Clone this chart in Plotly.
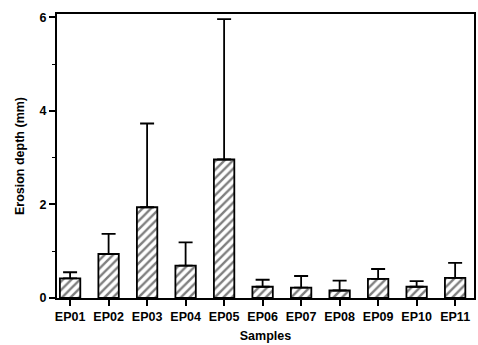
import plotly.graph_objects as go

samples = ["EP01", "EP02", "EP03", "EP04", "EP05", "EP06",
           "EP07", "EP08", "EP09", "EP10", "EP11"]
depth_mm = [0.42, 0.94, 1.94, 0.69, 2.96, 0.24, 0.22, 0.16, 0.41, 0.24, 0.43]
depth_err = [0.13, 0.43, 1.79, 0.50, 3.00, 0.15, 0.25, 0.21, 0.21, 0.12, 0.32]

font_main = "Liberation Sans, Arial, sans-serif"

fig = go.Figure()
fig.add_trace(go.Bar(
    x=list(range(len(samples))),
    y=depth_mm,
    width=0.53,
    marker=dict(
        color="white",
        line=dict(color="black", width=1.8),
        pattern=dict(shape="/", fgcolor="black", bgcolor="white",
                     size=6, solidity=0.4),
    ),
    error_y=dict(type="data", symmetric=False, array=depth_err,
                 arrayminus=[0] * len(samples),
                 color="black", thickness=1.8, width=7),
))

fig.update_layout(
    width=478, height=345,
    margin=dict(l=57, r=2, t=14, b=47),
    paper_bgcolor="white", plot_bgcolor="white",
    showlegend=False,
    font=dict(family=font_main, size=12, color="black"),
    bargap=0.4,
)
fig.update_xaxes(
    range=[-0.34, 10.49],
    tickmode="array",
    tickvals=list(range(len(samples))),
    ticktext=[f"<b>{s}</b>" for s in samples],
    ticks="outside", ticklen=6, tickwidth=1.6, tickcolor="black",
    showline=True, linecolor="black", linewidth=2, mirror=True,
    showgrid=False, zeroline=False,
    tickfont=dict(size=12.5, color="black"),
    title=dict(text="<b>Samples</b>", font=dict(size=12.5, color="black"),
               standoff=8),
)
fig.update_yaxes(
    range=[0, 6.07],
    tickmode="array", tickvals=[0, 2, 4, 6],
    ticktext=["<b>0</b>", "<b>2</b>", "<b>4</b>", "<b>6</b>"],
    ticks="outside", ticklen=6, tickwidth=1.6, tickcolor="black",
    minor=dict(tickvals=[1, 3, 5], ticks="outside", ticklen=3,
               tickwidth=1.2, tickcolor="black", showgrid=False),
    showline=True, linecolor="black", linewidth=2, mirror=True,
    showgrid=False, zeroline=False,
    tickfont=dict(size=12.5, color="black"),
    title=dict(text="<b>Erosion depth (mm)</b>",
               font=dict(size=12.5, color="black"), standoff=12),
)

fig.write_html("out.html")
